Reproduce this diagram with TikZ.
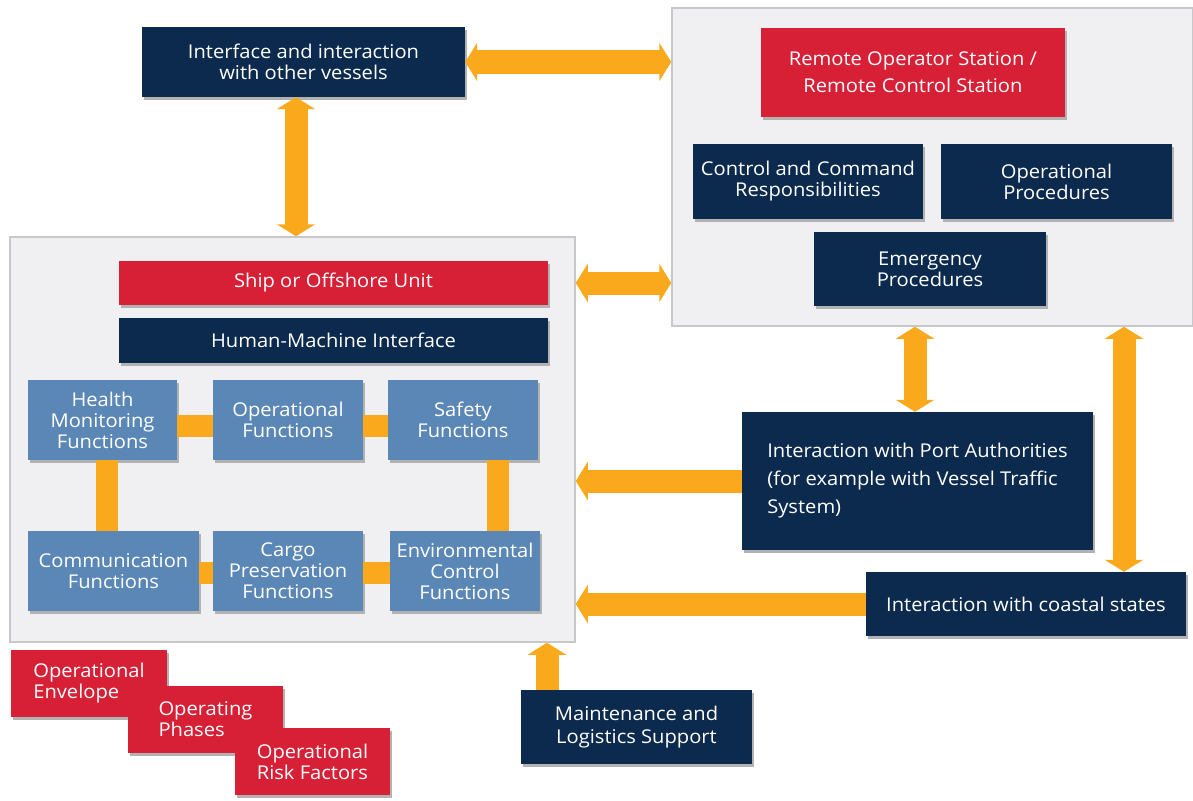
\documentclass[tikz,border=0pt]{standalone}
\usepackage{fontspec}
\setmainfont{Open Sans}[FakeStretch=1.06]
\usetikzlibrary{arrows.meta,shadows,positioning}

\definecolor{navy}{HTML}{0C2A4D}
\definecolor{crimson}{HTML}{D71F35}
\definecolor{steel}{HTML}{5B87B6}
\definecolor{amber}{HTML}{F9A91B}
\definecolor{panelfill}{HTML}{F0F0F2}
\definecolor{panelline}{HTML}{C8C8CA}

\tikzset{
  box/.style={text=white, align=center, inner sep=2pt,
    font=\fontsize{19}{21}\selectfont,
    drop shadow={shadow xshift=2pt, shadow yshift=-3pt, fill=black!30, opacity=1}},
  navybox/.style={box, fill=navy},
  redbox/.style={box, fill=crimson},
  funcbox/.style={box, fill=steel, minimum height=80pt},
  panel/.style={draw=panelline, fill=panelfill, line width=1.5pt},
  fat/.style={amber, line width=23pt,
    {Triangle[width=38pt,length=12pt]}-{Triangle[width=38pt,length=12pt]}},
  fatone/.style={amber, line width=23pt, -{Triangle[width=38pt,length=12pt]}},
  link/.style={amber, line width=22pt},
}

\begin{document}
\begin{tikzpicture}[x=1pt, y=-1pt]
  \useasboundingbox (0,0) rectangle (1193,800);

  % Panels
  \node[panel, minimum width=565pt, minimum height=405pt] (lpanel) at (292.5,439.5) {};
  \node[panel, minimum width=521pt, minimum height=318pt] (rpanel) at (932.5,167) {};

  % Define nodes
  \node[navybox, minimum width=323pt, minimum height=70pt] (vessels) at (303.5,62)
    {Interface and interaction\\with other vessels};

  \node[redbox, minimum width=304pt, minimum height=89pt,
        font=\fontsize{19}{27}\selectfont] (remote) at (913,72.5)
    {Remote Operator Station /\\Remote Control Station};
  \node[navybox, minimum width=230pt, minimum height=75pt] (cmd) at (808,181.5)
    {Control and Command\\Responsibilities};
  \node[navybox, minimum width=231pt, minimum height=75pt] (opproc) at (1056.5,181.5)
    {Operational\\Procedures};
  \node[navybox, minimum width=232pt, minimum height=74pt] (emerg) at (930,269)
    {Emergency\\Procedures};

  \node[redbox, minimum width=429pt, minimum height=44pt] (ship) at (333.5,283)
    {Ship or Offshore Unit};
  \node[navybox, minimum width=429pt, minimum height=45pt] (hmi) at (333.5,340.5)
    {Human-Machine Interface};

  \node[funcbox, minimum width=149pt] (health) at (102.5,420) {Health\\Monitoring\\Functions};
  \node[funcbox, minimum width=150pt] (oper)   at (288,420)   {Operational\\Functions};
  \node[funcbox, minimum width=150pt] (safety) at (463,420)   {Safety\\Functions};
  \node[funcbox, minimum width=171pt] (comm)   at (113.5,571) {Communication\\Functions};
  \node[funcbox, minimum width=150pt] (cargo)  at (288,571)   {Cargo\\Preservation\\Functions};
  \node[funcbox, minimum width=150pt] (env)    at (465,571)   {Environmental\\Control\\Functions};

  \node[navybox, minimum width=351pt, minimum height=138pt, align=left,
        font=\fontsize{19}{28}\selectfont] (port) at (917.5,481)
    {Interaction with Port Authorities\\(for example with Vessel Traffic\\System)};
  \node[navybox, minimum width=320pt, minimum height=64pt] (coastal) at (1026,604)
    {Interaction with coastal states};
  \node[navybox, minimum width=231pt, minimum height=74pt,
        font=\fontsize{19}{23}\selectfont] (maint) at (636.5,727)
    {Maintenance and\\Logistics Support};

  \node[redbox, minimum width=156pt, minimum height=67pt, align=left] (envelope)
    at (89,683.5) {Operational\\Envelope};
  \node[redbox, minimum width=155pt, minimum height=67pt, align=left] (phases)
    at (205.5,719.5) {Operating\\Phases};
  \node[redbox, minimum width=155pt, minimum height=67pt, align=left] (risk)
    at (312.5,761.5) {Operational\\Risk Factors};

  % Connect the functions
  \draw[link] ([yshift=-6pt]health.east) -- ([yshift=-6pt]oper.west);
  \draw[link] ([yshift=-6pt]oper.east) -- ([yshift=-6pt]safety.west);
  \draw[link] ([yshift=-2pt]comm.east) -- ([yshift=-2pt]cargo.west);
  \draw[link] ([yshift=-2pt]cargo.east) -- ([yshift=-2pt]env.west);
  \draw[link] ([xshift=4pt]health.south) -- ([xshift=4pt]health.south |- comm.north);
  \draw[link] ([xshift=35pt]safety.south) -- ([xshift=35pt]safety.south |- env.north);

  % Connect the blocks
  \draw[fat] (vessels.east) -- (vessels.east -| rpanel.west);
  \draw[fat] ([xshift=-7.5pt]vessels.south) -- ([xshift=-7.5pt]vessels.south |- lpanel.north);
  \draw[fat] (ship.east -| lpanel.east) -- (ship.east -| rpanel.west);
  \draw[fat] ([xshift=-2.5pt]port.north) -- ([xshift=-2.5pt]port.north |- rpanel.south);
  \draw[fat] ([xshift=98pt]coastal.north) -- ([xshift=98pt]coastal.north |- rpanel.south);
  \draw[fatone] (port.west) -- (port.west -| lpanel.east);
  \draw[fatone] (coastal.west) -- (coastal.west -| lpanel.east);
  \draw[fatone] ([xshift=-89.5pt]maint.north) -- ([xshift=-89.5pt]maint.north |- lpanel.south);

\end{tikzpicture}
\end{document}
